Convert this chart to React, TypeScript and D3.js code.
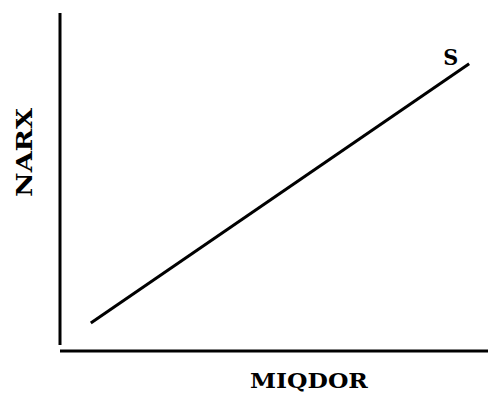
import React, { useEffect, useRef } from "react";
import * as d3 from "d3";

// supply curve S, in arbitrary units (no ticks on the original)
const supplyQty = [0.72, 9.56];
const supplyPrice = [0.83, 8.5];
const curveLabel = "S";
const xLabel = "MIQDOR";
const yLabel = "NARX";

export default function App() {
  const svgRef = useRef<SVGSVGElement>(null);
  const width = 488;
  const height = 397;

  useEffect(() => {
    document.body.style.margin = "0";
    const svg = d3.select(svgRef.current);
    svg.selectAll("*").remove();

    const margin = { top: 13, right: 0, bottom: 46, left: 60 };
    const x = d3.scaleLinear().domain([0, 10]).range([margin.left, width - margin.right]);
    const y = d3.scaleLinear().domain([0, 10]).range([height - margin.bottom, margin.top]);

    const font = "'DejaVu Serif', 'Liberation Serif', serif";

    // axes (plain lines, no ticks)
    svg.append("line")
      .attr("x1", x(0)).attr("x2", x(0))
      .attr("y1", y(10)).attr("y2", y(0) - 6)
      .attr("stroke", "#000").attr("stroke-width", 3);
    svg.append("line")
      .attr("x1", x(0)).attr("x2", x(10))
      .attr("y1", y(0)).attr("y2", y(0))
      .attr("stroke", "#000").attr("stroke-width", 3);

    // supply line
    const pts = supplyQty.map((q, i) => [q, supplyPrice[i]] as [number, number]);
    const line = d3.line<[number, number]>().x(d => x(d[0])).y(d => y(d[1]));
    svg.append("path")
      .attr("d", line(pts))
      .attr("fill", "none")
      .attr("stroke", "#000")
      .attr("stroke-width", 3);

    // text stretched to the width it has in the scan
    const label = (txt: string, size: number, w: number, tf: string) => {
      const g = svg.append("g").attr("transform", tf);
      const t = g.append("text")
        .style("font-family", font)
        .style("font-size", size + "px")
        .style("font-weight", "bold")
        .text(txt);
      const nat = (t.node() as SVGTextElement).getComputedTextLength() || w;
      t.attr("transform", `scale(${w / nat},1)`);
    };

    const last = pts[pts.length - 1];
    label(curveLabel, 22, 15, `translate(${x(last[0]) - 26},${y(last[1]) + 1})`);
    label(xLabel, 21, 118, "translate(250,388)");
    label(yLabel, 23, 89, "translate(32,197) rotate(-90)");
  }, []);

  return <svg ref={svgRef} width={width} height={height} style={{ display: "block", background: "#fff" }} />;
}
